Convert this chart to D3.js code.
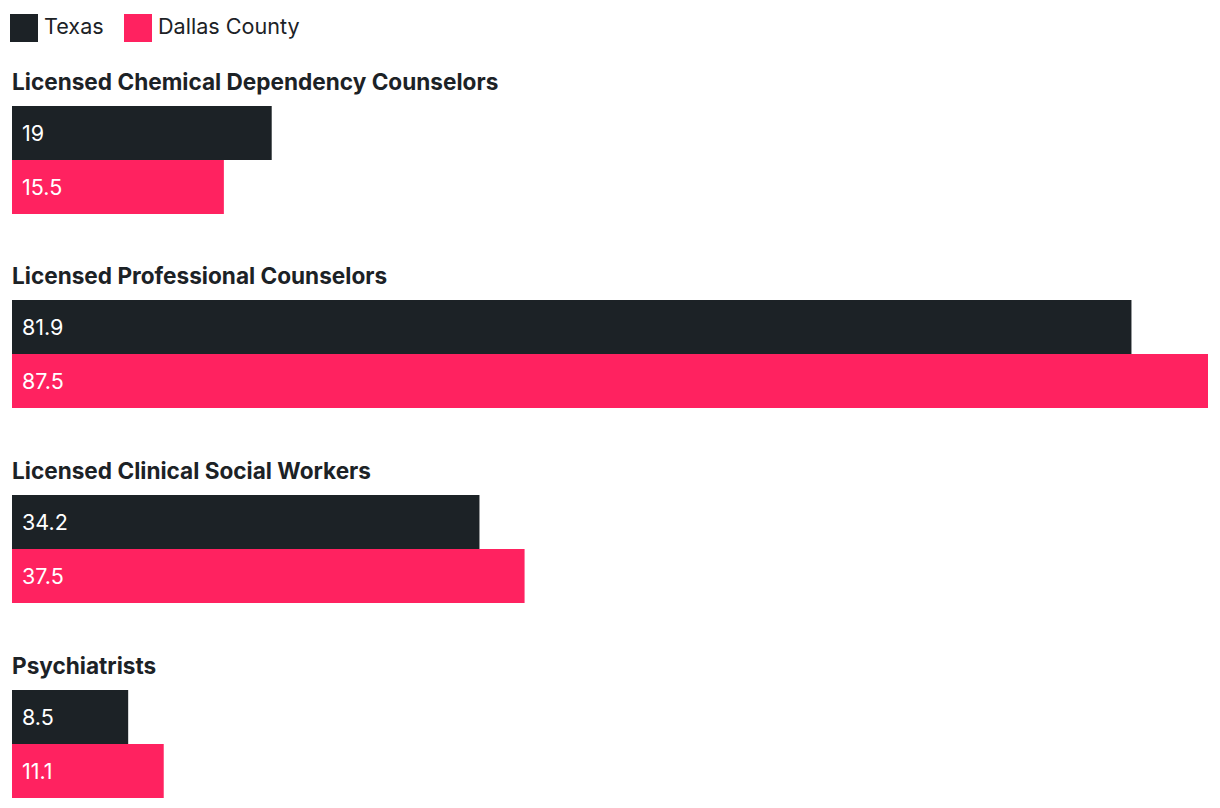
<!DOCTYPE html>
<html><head><meta charset="utf-8">
<script src="https://cdn.jsdelivr.net/npm/d3@7"></script>
<style>body{margin:0;background:#fff;}svg{display:block;font-family:Inter,"Noto Sans",sans-serif;}</style>
</head><body><svg id="c" width="1220" height="808"></svg>
<script>
const categories = ["Licensed Chemical Dependency Counselors","Licensed Professional Counselors","Licensed Clinical Social Workers","Psychiatrists"];
const seriesNames = ["Texas","Dallas County"];
const texas = [19, 81.9, 34.2, 8.5];
const dallas = [15.5, 87.5, 37.5, 11.1];
const colors = ["#1c2226","#ff2260"];

const svg = d3.select("#c");
const x = d3.scaleLinear().domain([0, 87.5]).range([12, 1208]);
const gy = d3.scaleBand().domain(categories).range([106, 690+194.67]).paddingInner(0).paddingOuter(0);
const barH = 54;

// legend
const leg = svg.append("g");
const legX = [10, 124];
seriesNames.forEach((n,i)=>{
  leg.append("rect").attr("x",legX[i]).attr("y",14).attr("width",28).attr("height",28).attr("fill",colors[i]);
  leg.append("text").attr("x",legX[i]+34).attr("y",34).attr("font-size",21.6).attr("fill","#1c2226").text(n);
});

categories.forEach((c,i)=>{
  const top = Math.floor(gy(c));
  const g = svg.append("g");
  g.append("text").attr("x",12).attr("y",top-16).attr("font-size",22.6).attr("font-weight",700)
    .attr("fill","#1c2226").text(c);
  [texas[i], dallas[i]].forEach((v,j)=>{
    const y0 = top + j*barH;
    g.append("rect").attr("x",x(0)).attr("y",y0).attr("width",x(v)-x(0)).attr("height",barH).attr("fill",colors[j]);
    g.append("text").attr("x",22).attr("y",y0+barH/2+8).attr("font-size",21.5).attr("fill","#fff").text(v);
  });
});
</script></body></html>
